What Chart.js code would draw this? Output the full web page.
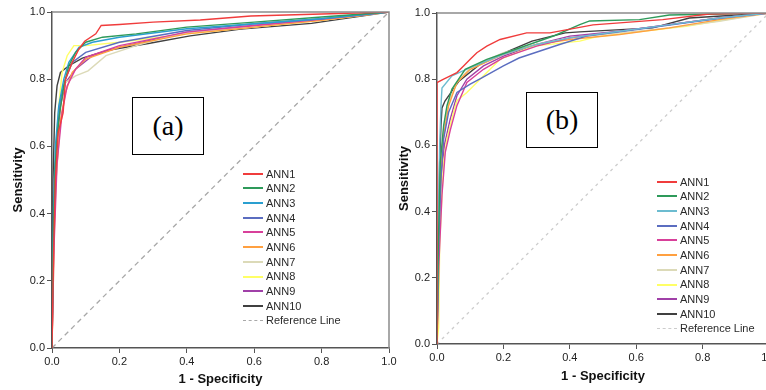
<!DOCTYPE html>
<html>
<head>
<meta charset="utf-8">
<script src="https://cdn.jsdelivr.net/npm/chart.js@4"></script>
<style>
html, body { margin: 0; padding: 0; background: #fff; }
#wrap { position: relative; width: 766px; height: 390px; overflow: hidden; font-family: "Liberation Sans", Arial, sans-serif; }
canvas { position: absolute; top: 0; }
.tag { position: absolute; border: 1.5px solid #000; box-sizing: border-box; background: #fff;
  font-family: "Liberation Serif", "Times New Roman", serif; font-size: 28px;
  display: flex; align-items: center; justify-content: center; }
.leg { position: absolute; font-size: 11px; color: #2a2a2a; }
.leg div { height: 14.7px; line-height: 14.7px; white-space: nowrap; }
.leg .ln { display: inline-block; width: 20px; height: 2px; vertical-align: middle; margin-right: 3px; position: relative; top: -1px; }
.leg .dash { display: inline-block; width: 20px; height: 0; border-top: 1px dashed; vertical-align: middle; margin-right: 3px; position: relative; top: -1px; }
</style>
</head>
<body>
<div id="wrap">
  <canvas id="chartA" width="400" height="390" style="left:0"></canvas>
  <canvas id="chartB" width="390" height="390" style="left:390px"></canvas>
  <div class="tag" style="left:132px;top:97px;width:72px;height:58px">(a)</div>
  <div class="tag" style="left:526px;top:92px;width:72px;height:56px">(b)</div>
  <div class="leg" id="legA" style="left:243px;top:166.6px"></div>
  <div class="leg" id="legB" style="left:657px;top:174.6px"></div>
</div>
<script>
const names = ['ANN1', 'ANN2', 'ANN3', 'ANN4', 'ANN5', 'ANN6', 'ANN7', 'ANN8', 'ANN9', 'ANN10'];
const tickVals = [0, 0.2, 0.4, 0.6, 0.8, 1.0];

// panel (a): 1 - specificity (x) and sensitivity (y)
const a1x = [0, 0.005, 0.01, 0.018, 0.033, 0.04, 0.06, 0.08, 0.097, 0.13, 0.146, 0.2, 0.3, 0.44, 0.59, 0.8, 1];
const a1y = [0, 0.3, 0.5, 0.64, 0.7, 0.8, 0.85, 0.89, 0.913, 0.935, 0.96, 0.963, 0.97, 0.976, 0.988, 0.994, 1];
const a2x = [0, 0.004, 0.01, 0.02, 0.035, 0.05, 0.07, 0.1, 0.15, 0.25, 0.4, 0.6, 0.8, 1];
const a2y = [0, 0.35, 0.55, 0.68, 0.78, 0.84, 0.88, 0.91, 0.925, 0.935, 0.955, 0.97, 0.985, 1];
const a3x = [0, 0.004, 0.01, 0.02, 0.035, 0.05, 0.08, 0.12, 0.2, 0.4, 0.6, 0.8, 1];
const a3y = [0, 0.4, 0.6, 0.72, 0.8, 0.85, 0.895, 0.91, 0.925, 0.95, 0.965, 0.98, 1];
const a4x = [0, 0.005, 0.012, 0.025, 0.04, 0.06, 0.1, 0.2, 0.4, 0.6, 0.8, 1];
const a4y = [0, 0.35, 0.6, 0.74, 0.8, 0.85, 0.88, 0.91, 0.945, 0.965, 0.98, 1];
const a5x = [0, 0.006, 0.015, 0.03, 0.045, 0.07, 0.1, 0.2, 0.4, 0.6, 0.8, 1];
const a5y = [0, 0.3, 0.55, 0.7, 0.78, 0.83, 0.865, 0.9, 0.94, 0.96, 0.978, 1];
const a6x = [0, 0.005, 0.012, 0.025, 0.04, 0.06, 0.1, 0.2, 0.4, 0.6, 0.8, 1];
const a6y = [0, 0.3, 0.5, 0.68, 0.76, 0.82, 0.86, 0.895, 0.935, 0.955, 0.975, 1];
const a7x = [0, 0.005, 0.012, 0.02, 0.04, 0.07, 0.107, 0.16, 0.25, 0.34, 0.41, 0.6, 0.77, 0.9, 1];
const a7y = [0, 0.3, 0.6, 0.72, 0.79, 0.81, 0.825, 0.87, 0.9, 0.925, 0.94, 0.955, 0.975, 0.99, 1];
const a8x = [0, 0.005, 0.01, 0.02, 0.03, 0.045, 0.065, 0.1, 0.2, 0.4, 0.6, 0.8, 1];
const a8y = [0, 0.25, 0.5, 0.72, 0.82, 0.87, 0.9, 0.9, 0.91, 0.935, 0.955, 0.975, 1];
const a9x = [0, 0.005, 0.012, 0.025, 0.04, 0.07, 0.12, 0.2, 0.4, 0.6, 0.8, 1];
const a9y = [0, 0.35, 0.58, 0.72, 0.79, 0.83, 0.87, 0.895, 0.94, 0.96, 0.978, 1];
const a10x = [0, 0.003, 0.008, 0.015, 0.025, 0.05, 0.09, 0.17, 0.29, 0.41, 0.56, 0.77, 1];
const a10y = [0, 0.5, 0.7, 0.78, 0.82, 0.84, 0.863, 0.887, 0.907, 0.929, 0.949, 0.966, 1];

// panel (b)
const b1x = [0, 0, 0.02, 0.04, 0.06, 0.08, 0.1, 0.12, 0.15, 0.19, 0.27, 0.34, 0.47, 0.68, 0.82, 1];
const b1y = [0, 0.79, 0.8, 0.81, 0.82, 0.84, 0.86, 0.88, 0.9, 0.92, 0.94, 0.94, 0.964, 0.98, 0.997, 1];
const b2x = [0, 0.004, 0.01, 0.02, 0.03, 0.045, 0.085, 0.15, 0.25, 0.355, 0.43, 0.46, 0.61, 0.7, 1];
const b2y = [0, 0.3, 0.55, 0.66, 0.72, 0.77, 0.83, 0.86, 0.895, 0.932, 0.965, 0.976, 0.98, 0.994, 1];
const b3x = [0, 0.004, 0.008, 0.012, 0.015, 0.045, 0.1, 0.2, 0.3, 0.4, 0.55, 0.7, 0.85, 1];
const b3y = [0, 0.35, 0.6, 0.72, 0.773, 0.81, 0.835, 0.875, 0.905, 0.925, 0.945, 0.965, 0.985, 1];
const b4x = [0, 0.005, 0.012, 0.02, 0.035, 0.06, 0.1, 0.135, 0.2, 0.247, 0.367, 0.45, 0.6, 0.75, 0.9, 1];
const b4y = [0, 0.3, 0.5, 0.62, 0.7, 0.76, 0.785, 0.804, 0.84, 0.864, 0.904, 0.93, 0.95, 0.97, 0.99, 1];
const b5x = [0, 0.006, 0.015, 0.025, 0.04, 0.06, 0.09, 0.14, 0.2, 0.3, 0.4, 0.55, 0.7, 0.85, 1];
const b5y = [0, 0.25, 0.45, 0.58, 0.646, 0.72, 0.79, 0.83, 0.865, 0.9, 0.925, 0.945, 0.965, 0.985, 1];
const b6x = [0, 0.005, 0.012, 0.02, 0.035, 0.06, 0.1, 0.2, 0.3, 0.4, 0.55, 0.7, 0.85, 1];
const b6y = [0, 0.3, 0.52, 0.63, 0.72, 0.79, 0.83, 0.875, 0.905, 0.92, 0.935, 0.955, 0.98, 1];
const b7x = [0, 0.005, 0.012, 0.02, 0.035, 0.06, 0.1, 0.2, 0.3, 0.4, 0.55, 0.7, 0.85, 1];
const b7y = [0, 0.3, 0.55, 0.65, 0.73, 0.79, 0.835, 0.88, 0.905, 0.925, 0.94, 0.955, 0.975, 1];
const b8x = [0, 0.005, 0.008, 0.015, 0.02, 0.03, 0.05, 0.06, 0.09, 0.15, 0.19, 0.29, 0.43, 0.48, 0.58, 0.75, 0.9, 1];
const b8y = [0, 0.05, 0.3, 0.45, 0.55, 0.62, 0.7, 0.735, 0.76, 0.82, 0.86, 0.9, 0.915, 0.928, 0.94, 0.96, 0.985, 1];
const b9x = [0, 0.005, 0.012, 0.022, 0.04, 0.06, 0.09, 0.14, 0.2, 0.3, 0.4, 0.55, 0.7, 0.85, 1];
const b9y = [0, 0.3, 0.5, 0.6, 0.68, 0.75, 0.8, 0.84, 0.87, 0.905, 0.93, 0.945, 0.965, 0.985, 1];
const b10x = [0, 0.004, 0.008, 0.012, 0.015, 0.024, 0.066, 0.127, 0.187, 0.286, 0.386, 0.43, 0.65, 0.76, 1];
const b10y = [0, 0.3, 0.55, 0.66, 0.713, 0.734, 0.794, 0.843, 0.873, 0.915, 0.94, 0.943, 0.955, 0.985, 1];

const colorsA = ['#f03c3c', '#2e9a5a', '#2a9fd0', '#5b6dc0', '#d8409a', '#ffa040', '#dcdab8', '#ffff66', '#a040a8', '#404040'];
const colorsB = ['#f03c3c', '#2e9a5a', '#6cbcd0', '#5b6dc0', '#d8409a', '#ffa040', '#dcdab8', '#ffff66', '#a040a8', '#404040'];

const xsA = [a1x, a2x, a3x, a4x, a5x, a6x, a7x, a8x, a9x, a10x];
const ysA = [a1y, a2y, a3y, a4y, a5y, a6y, a7y, a8y, a9y, a10y];
const xsB = [b1x, b2x, b3x, b4x, b5x, b6x, b7x, b8x, b9x, b10x];
const ysB = [b1y, b2y, b3y, b4y, b5y, b6y, b7y, b8y, b9y, b10y];

const fontFam = '"Liberation Sans", Arial, sans-serif';

function buildSets(xs, ys, colors, refColor, refDash) {
  const sets = [];
  for (let i = 0; i < names.length; i++) {
    const pts = [];
    for (let j = 0; j < xs[i].length; j++) pts.push({ x: xs[i][j], y: ys[i][j] });
    sets.push({ label: names[i], data: pts, borderColor: colors[i], borderWidth: 1.4, pointRadius: 0, tension: 0 });
  }
  sets.push({ label: 'Reference Line', data: [{ x: 0, y: 0 }, { x: 1, y: 1 }], borderColor: refColor,
    borderWidth: 1.3, borderDash: refDash, pointRadius: 0, order: 20 });
  return sets;
}

const frame = {
  id: 'frame',
  afterDraw(chart) {
    const { ctx, chartArea: a } = chart;
    ctx.save();
    ctx.strokeStyle = '#8c8c8c';
    ctx.lineWidth = 1.5;
    ctx.beginPath();
    ctx.moveTo(a.left, a.top);
    ctx.lineTo(a.right, a.top);
    ctx.lineTo(a.right, a.bottom);
    ctx.stroke();
    ctx.restore();
  }
};

function axis(title, size, titlePad) {
  return {
    type: 'linear', min: 0, max: 1,
    afterBuildTicks: s => { s.ticks = tickVals.map(v => ({ value: v })); },
    afterFit: s => { if (s.isHorizontal()) s.height = size; else s.width = size; },
    grid: { drawOnChartArea: false, tickLength: 5, color: '#555', lineWidth: 1 },
    border: { color: '#555', width: 1.5 },
    ticks: { color: '#222', font: { size: 11, family: fontFam }, padding: 2, maxRotation: 0,
      callback: v => Number(v).toFixed(1) },
    title: { display: true, text: title, color: '#111', font: { size: 13, weight: 'bold', family: fontFam },
      padding: titlePad }
  };
}

function makeChart(id, sets, yw, xh, pad, yTitlePad, xTitlePad) {
  new Chart(document.getElementById(id), {
    type: 'line',
    data: { datasets: sets },
    options: {
      responsive: false,
      animation: false,
      layout: { padding: pad },
      plugins: { legend: { display: false }, tooltip: { enabled: false } },
      scales: {
        x: axis('1 - Specificity', xh, xTitlePad),
        y: axis('Sensitivity', yw, yTitlePad)
      }
    },
    plugins: [frame]
  });
}

makeChart('chartA', buildSets(xsA, ysA, colorsA, '#a8a8a8', [5, 4]), 52, 42,
  { left: 0, right: 11, top: 12, bottom: 0 }, { top: 11, bottom: 0 }, { top: 0, bottom: 3 });
makeChart('chartB', buildSets(xsB, ysB, colorsB, '#cccccc', [3, 4]), 47, 46,
  { left: 0, right: 11, top: 13, bottom: 0 }, { top: 7, bottom: 0 }, { top: 0, bottom: 6 });

function legend(id, colors, refColor) {
  const box = document.getElementById(id);
  for (let i = 0; i < names.length; i++) {
    const row = document.createElement('div');
    row.innerHTML = '<span class="ln" style="background:' + colors[i] + '"></span>' + names[i];
    box.appendChild(row);
  }
  const ref = document.createElement('div');
  ref.innerHTML = '<span class="dash" style="border-top-color:' + refColor + '"></span>Reference Line';
  box.appendChild(ref);
}
legend('legA', colorsA, '#a8a8a8');
legend('legB', colorsB, '#cccccc');
</script>
</body>
</html>
